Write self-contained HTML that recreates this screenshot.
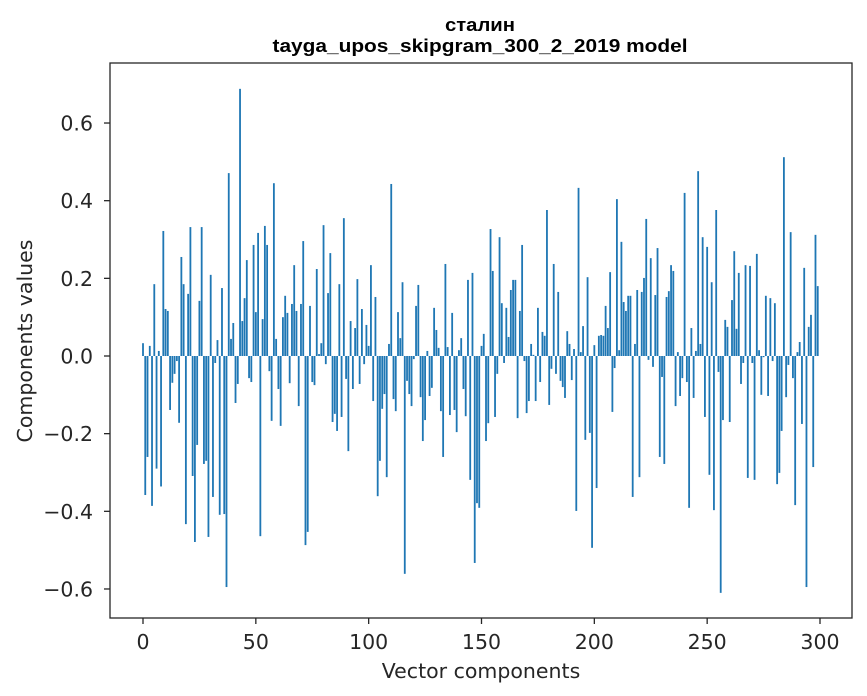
<!DOCTYPE html>
<html><head><meta charset="utf-8"><style>
body{margin:0;background:#fff;}
svg{display:block;font-family:"DejaVu Sans","Liberation Sans",sans-serif;}
</style></head><body>
<svg id="chart" width="867" height="696" viewBox="0 0 867 696" xmlns="http://www.w3.org/2000/svg">
<rect width="867" height="696" fill="#fff"/>
<text x="480" y="31" text-anchor="middle" font-size="18" font-weight="bold" font-family="Liberation Sans, sans-serif" textLength="70" lengthAdjust="spacingAndGlyphs">сталин</text>
<text x="480" y="52" text-anchor="middle" font-size="18" font-weight="bold" font-family="Liberation Sans, sans-serif" textLength="415" lengthAdjust="spacingAndGlyphs">tayga_upos_skipgram_300_2_2019 model</text>
<g id="bars"></g>
<g id="axes"></g>
<rect x="110" y="63" width="742" height="555" fill="none" stroke="#262626" stroke-width="1.3"/>
<text x="481" y="678" text-anchor="middle" font-size="20.5" fill="#262626">Vector components</text>
<text x="0" y="0" transform="translate(32,341) rotate(-90)" text-anchor="middle" font-size="20.5" fill="#262626">Components values</text>
</svg>
<script>
const values = [
0.033,-0.358,-0.26,0.026,-0.386,0.185,-0.29,0.013,-0.336,0.322,
0.121,0.116,-0.139,-0.069,-0.046,-0.013,-0.172,0.255,0.185,-0.433,
0.16,0.332,-0.309,-0.479,-0.229,0.142,0.332,-0.278,-0.27,-0.466,
0.209,-0.363,-0.018,0.041,-0.409,0.175,-0.407,-0.595,0.471,0.044,
0.085,-0.121,-0.072,0.688,0.09,0.149,0.247,-0.057,-0.067,0.286,
0.113,0.317,-0.464,0.095,0.335,0.286,-0.039,-0.167,0.445,0.044,
-0.085,-0.18,0.1,0.155,0.111,-0.07,0.134,0.234,0.116,-0.129,
0.134,0.296,-0.487,-0.453,0.129,-0.067,-0.075,0.224,0.005,0.033,
0.337,-0.021,0.162,0.265,-0.17,-0.149,-0.193,0.185,-0.157,0.355,
-0.059,-0.245,0.09,-0.085,0.072,0.198,-0.072,0.121,-0.021,0.08,
0.026,0.234,-0.116,0.152,-0.361,-0.27,-0.136,-0.098,-0.312,0.031,
0.443,-0.111,-0.142,0.113,0.046,0.19,-0.561,-0.064,-0.098,-0.129,
-0.008,0.129,0.183,-0.106,-0.219,-0.165,0.013,-0.103,-0.082,0.124,
0.067,0.021,-0.142,-0.26,0.237,0.023,-0.152,0.111,-0.139,-0.196,
0.015,0.046,-0.085,-0.155,0.196,-0.319,0.214,-0.533,-0.379,-0.391,
0.026,0.057,-0.219,-0.173,0.327,0.219,-0.157,-0.046,0.306,0.136,
-0.018,0.124,0.049,0.17,0.196,0.196,-0.16,0.116,0.286,-0.013,
-0.147,-0.116,0.031,0.003,-0.116,0.124,-0.067,0.062,0.052,0.376,
-0.126,-0.033,0.237,-0.046,0.165,-0.064,-0.08,-0.108,0.064,0.031,
-0.062,0.018,-0.399,0.433,0.01,0.077,-0.216,0.203,-0.198,-0.494,
0.028,-0.34,0.052,0.054,0.052,0.129,0.072,0.216,-0.144,-0.031,
0.404,0.015,0.294,0.139,0.116,0.155,0.155,-0.363,0.031,0.17,
-0.312,0.165,0.201,0.353,-0.01,0.252,-0.028,0.157,0.278,-0.26,
-0.054,-0.278,0.152,0.167,0.234,0.219,-0.129,0.01,-0.103,-0.057,
0.42,-0.067,-0.391,0.072,-0.108,0.013,0.476,0.031,0.306,-0.157,
0.281,-0.306,0.19,-0.397,0.376,-0.041,-0.61,-0.165,0.093,0.075,
-0.17,0.144,0.27,0.07,0.214,-0.072,-0.018,0.234,-0.314,0.232,
-0.018,-0.319,0.263,0.015,-0.1,-0.003,0.155,-0.103,0.149,-0.013,
0.136,-0.33,-0.301,-0.193,0.512,-0.106,-0.023,0.319,-0.057,-0.384,
0.01,0.036,-0.175,0.227,-0.595,0.075,0.106,-0.286,0.312,0.18
];
const xTicks = [0,50,100,150,200,250,300];
const yTicks = [-0.6,-0.4,-0.2,0.0,0.2,0.4,0.6];
const yTickLabels = ["\u22120.6","\u22120.4","\u22120.2","0.0","0.2","0.4","0.6"];

const NS="http://www.w3.org/2000/svg";
function xs(v){return 143+v*(677/300);}
function ys(v){return 356-v*388.3;}
const barsG=document.getElementById('bars');
const axesG=document.getElementById('axes');
const bw=0.8*(677/300);
values.forEach((v,i)=>{
  const r=document.createElementNS(NS,'rect');
  const y0=ys(0), y1=ys(v);
  r.setAttribute('x',(xs(i)-bw/2).toFixed(2));
  r.setAttribute('y',Math.min(y0,y1).toFixed(2));
  r.setAttribute('width',bw.toFixed(2));
  r.setAttribute('height',Math.max(Math.abs(y1-y0),0.3).toFixed(2));
  r.setAttribute('fill','#1f77b4');
  
  
  barsG.appendChild(r);
});
xTicks.forEach(t=>{
  const l=document.createElementNS(NS,'line');
  l.setAttribute('x1',xs(t));l.setAttribute('x2',xs(t));
  l.setAttribute('y1',618);l.setAttribute('y2',624);
  l.setAttribute('stroke','#262626');l.setAttribute('stroke-width','1.3');
  
  
  axesG.appendChild(l);
  const tx=document.createElementNS(NS,'text');
  tx.setAttribute('x',xs(t));tx.setAttribute('y',649);
  tx.setAttribute('text-anchor','middle');tx.setAttribute('font-size','20.5');
  tx.setAttribute('fill','#262626');
  tx.textContent=String(t);
  
  
  axesG.appendChild(tx);
});
yTicks.forEach((t,i)=>{
  const l=document.createElementNS(NS,'line');
  l.setAttribute('x1',104);l.setAttribute('x2',110);
  l.setAttribute('y1',ys(t));l.setAttribute('y2',ys(t));
  l.setAttribute('stroke','#262626');l.setAttribute('stroke-width','1.3');
  
  
  axesG.appendChild(l);
  const tx=document.createElementNS(NS,'text');
  tx.setAttribute('x',93);tx.setAttribute('y',ys(t)+7.5);
  tx.setAttribute('text-anchor','end');tx.setAttribute('font-size','20.5');
  tx.setAttribute('fill','#262626');
  tx.textContent=yTickLabels[i];
  
  
  axesG.appendChild(tx);
});
</script>
</body></html>
